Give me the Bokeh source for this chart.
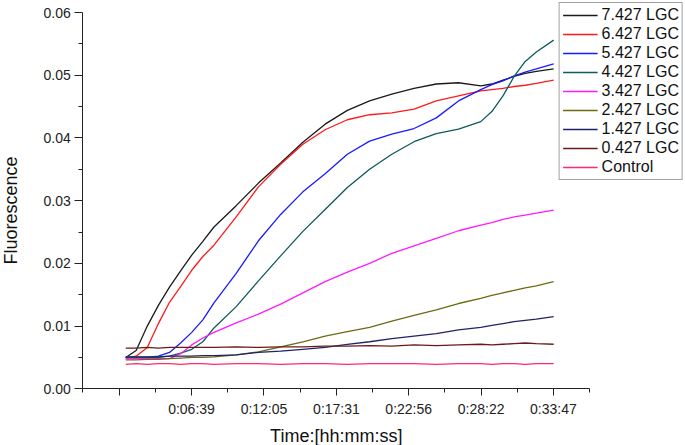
import math
from bokeh.plotting import figure
from bokeh.models import Range1d, FixedTicker, Legend, LegendItem, NumeralTickFormatter, Label
from bokeh.embed import file_html
from bokeh.resources import INLINE

# time in seconds
t = [103, 150, 200, 250, 300, 350, 400, 450, 500, 600, 700, 800, 900, 1000, 1100,
     1200, 1300, 1400, 1500, 1600, 1700, 1750, 1800, 1850, 1900, 1950, 2028]

lgc_7_427 = [0.0050, 0.0061, 0.0100, 0.0133, 0.0162, 0.0188, 0.0213, 0.0235, 0.0258, 0.0292,
             0.0328, 0.0360, 0.0393, 0.0422, 0.0444, 0.0459, 0.0470, 0.0479, 0.0486, 0.0488,
             0.0483, 0.0486, 0.0492, 0.0498, 0.0503, 0.0506, 0.0510]
lgc_6_427 = [0.0049, 0.0052, 0.0066, 0.0104, 0.0138, 0.0163, 0.0189, 0.0211, 0.0229, 0.0274,
             0.0322, 0.0358, 0.0390, 0.0413, 0.0429, 0.0437, 0.0440, 0.0446, 0.0459, 0.0467,
             0.0475, 0.0477, 0.0479, 0.0482, 0.0484, 0.0487, 0.0492]
lgc_5_427 = [0.0050, 0.0050, 0.0050, 0.0052, 0.0058, 0.0073, 0.0090, 0.0110, 0.0137, 0.0184,
             0.0236, 0.0278, 0.0314, 0.0343, 0.0374, 0.0395, 0.0406, 0.0415, 0.0432, 0.0459,
             0.0477, 0.0485, 0.0491, 0.0499, 0.0505, 0.0510, 0.0518]
lgc_4_427 = [0.0050, 0.0050, 0.0050, 0.0050, 0.0052, 0.0057, 0.0063, 0.0075, 0.0097, 0.0131,
             0.0172, 0.0212, 0.0251, 0.0286, 0.0321, 0.0350, 0.0374, 0.0394, 0.0407, 0.0414,
             0.0426, 0.0442, 0.0467, 0.0498, 0.0522, 0.0537, 0.0556]
lgc_3_427 = [0.0048, 0.0048, 0.0048, 0.0048, 0.0048, 0.0056, 0.0070, 0.0081, 0.0090, 0.0105,
             0.0119, 0.0135, 0.0153, 0.0171, 0.0186, 0.0200, 0.0216, 0.0228, 0.0240, 0.0252,
             0.0261, 0.0265, 0.0270, 0.0274, 0.0277, 0.0280, 0.0285]
lgc_2_427 = [0.0046, 0.0046, 0.0047, 0.0047, 0.0048, 0.0049, 0.0050, 0.0050, 0.0051, 0.0054,
             0.0059, 0.0067, 0.0075, 0.0084, 0.0091, 0.0098, 0.0108, 0.0117, 0.0126, 0.0136,
             0.0144, 0.0149, 0.0153, 0.0157, 0.0161, 0.0164, 0.0171]
lgc_1_427 = [0.0051, 0.0051, 0.0051, 0.0051, 0.0052, 0.0052, 0.0052, 0.0053, 0.0053, 0.0054,
             0.0058, 0.0060, 0.0063, 0.0066, 0.0071, 0.0075, 0.0080, 0.0084, 0.0088, 0.0094,
             0.0098, 0.0101, 0.0104, 0.0107, 0.0109, 0.0111, 0.0115]
lgc_0_427 = [0.0065, 0.0065, 0.0066, 0.0065, 0.0066, 0.0066, 0.0066, 0.0066, 0.0066, 0.0067,
             0.0066, 0.0067, 0.0067, 0.0068, 0.0068, 0.0069, 0.0068, 0.0070, 0.0069, 0.0070,
             0.0071, 0.0070, 0.0071, 0.0072, 0.0073, 0.0072, 0.0071]
control = [0.0039, 0.0040, 0.0039, 0.0040, 0.0040, 0.0039, 0.0040, 0.0040, 0.0039, 0.0040,
           0.0040, 0.0039, 0.0040, 0.0040, 0.0039, 0.0040, 0.0040, 0.0040, 0.0039, 0.0040,
           0.0040, 0.0039, 0.0040, 0.0040, 0.0039, 0.0040, 0.0040]

series_names = ["7.427 LGC", "6.427 LGC", "5.427 LGC", "4.427 LGC", "3.427 LGC",
                "2.427 LGC", "1.427 LGC", "0.427 LGC", "Control"]
series_values = [lgc_7_427, lgc_6_427, lgc_5_427, lgc_4_427, lgc_3_427,
                 lgc_2_427, lgc_1_427, lgc_0_427, control]
colors = ["#1a1a1a", "#ff1a1a", "#1a1aff", "#0f5a5a", "#ff1aff",
          "#6b6b12", "#22226b", "#6b1a1a", "#ff2a6a"]

x_ticks = [73, 399, 725, 1051, 1376, 1702, 2027]
x_tick_labels = ["", "0:06:39", "0:12:05", "0:17:31", "0:22:56", "0:28:22", "0:33:47"]
x_minor = [-90, 236, 562, 888, 1213, 1539, 1864, 2190]
x_axis_span = (-90, 2190)
y_ticks = [0.0, 0.01, 0.02, 0.03, 0.04, 0.05, 0.06]
y_minor = [0.005, 0.015, 0.025, 0.035, 0.045, 0.055]
y_axis_span = (0.0, 0.06)
x_title = "Time:[hh:mm:ss]"
y_title = "Fluorescence"

FONT = "Liberation Sans"
W, H = 685, 445

# pixel geometry of the axes (page pixels)
AX_LEFT_PX, AX_BOTTOM_PX, TOP_TICK_PX = 82.3, 388.3, 12.0
px_per_s = (552.7 - 118.3) / (x_ticks[-1] - x_ticks[0])
px_per_y = (AX_BOTTOM_PX - TOP_TICK_PX) / (y_axis_span[1] - y_axis_span[0])

X0 = x_axis_span[0] - AX_LEFT_PX / px_per_s
X1 = x_axis_span[0] + (W - AX_LEFT_PX) / px_per_s
Y0 = -(H - AX_BOTTOM_PX) / px_per_y
Y1 = AX_BOTTOM_PX / px_per_y

def px_to_x(px):
    return X0 + px / px_per_s

def py_to_y(py):
    return (AX_BOTTOM_PX - py) / px_per_y

p = figure(width=W, height=H, output_backend="svg", toolbar_location=None,
           x_range=Range1d(X0, X1), y_range=Range1d(Y0, Y1),
           min_border_left=0, min_border_right=0, min_border_top=0, min_border_bottom=0)
p.outline_line_color = None
p.xgrid.visible = False
p.ygrid.visible = False
p.background_fill_color = "white"
p.border_fill_color = "white"

renderers = []
for vals, col in zip(series_values, colors):
    r = p.line(t, vals, line_color=col, line_width=1.3)
    renderers.append(r)

xa = p.xaxis[0]
xa.fixed_location = 0.0
xa.bounds = x_axis_span
xa.ticker = FixedTicker(ticks=x_ticks, minor_ticks=x_minor)
xa.major_label_overrides = {tk: lb for tk, lb in zip(x_ticks, x_tick_labels)}

ya = p.yaxis[0]
ya.fixed_location = x_axis_span[0]
ya.bounds = y_axis_span
ya.ticker = FixedTicker(ticks=y_ticks, minor_ticks=y_minor)
ya.formatter = NumeralTickFormatter(format="0.00")

for ax, mt in ((xa, 7), (ya, 8)):
    ax.axis_line_color = "#222222"
    ax.axis_line_width = 1
    ax.major_tick_line_color = "#222222"
    ax.minor_tick_line_color = "#222222"
    ax.major_tick_out = mt
    ax.major_tick_in = 0
    ax.minor_tick_out = 4
    ax.minor_tick_in = 0
    ax.major_label_text_font = FONT
    ax.major_label_text_font_size = "14px"
    ax.major_label_text_color = "#222222"

xa.major_label_standoff = 5
ya.major_label_standoff = 4

xt = Label(x=sum(x_axis_span) / 2.0, y=py_to_y(435), text=x_title,
           text_align="center", text_baseline="middle",
           text_font=FONT, text_font_size="18px", text_color="#111111")
yt = Label(x=px_to_x(10), y=py_to_y(210), text=y_title,
           angle=math.pi / 2, text_align="center", text_baseline="middle",
           text_font=FONT, text_font_size="18px", text_color="#111111")
p.add_layout(xt)
p.add_layout(yt)

legend = Legend(items=[LegendItem(label=n, renderers=[r]) for n, r in zip(series_names, renderers)],
                location="top_right")
legend.margin = 2
legend.padding = 3
legend.spacing = 1
legend.glyph_width = 35
legend.glyph_height = 18
legend.label_height = 18
legend.label_standoff = 4
legend.label_text_font = FONT
legend.label_text_font_size = "16px"
legend.label_text_color = "#111111"
legend.border_line_color = "#444444"
legend.border_line_width = 1
legend.background_fill_color = "white"
legend.background_fill_alpha = 1.0
p.add_layout(legend)

open("out.html", "w").write(file_html(p, INLINE))
